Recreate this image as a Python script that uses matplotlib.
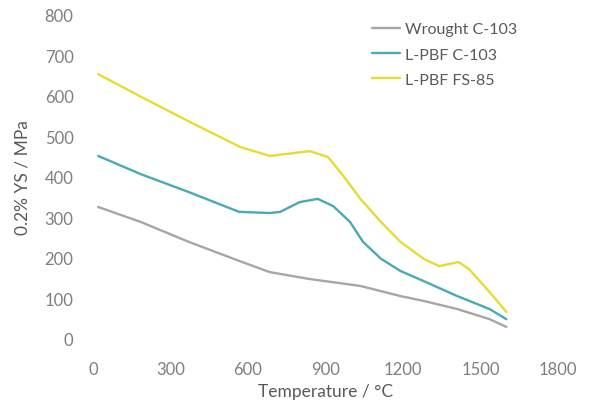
import matplotlib.pyplot as plt

# values (temperature in °C, 0.2% YS in MPa)
wrought_t = [20, 185, 370, 565, 685, 840, 1035, 1190, 1280, 1410, 1535, 1600]
wrought_ys = [326, 289, 240, 193, 165, 148, 131, 106, 94, 74, 49, 30]

c103_t = [20, 185, 370, 565, 685, 725, 800, 870, 930, 995, 1045, 1115, 1190,
          1280, 1410, 1535, 1600]
c103_ys = [452, 407, 363, 314, 311, 314, 338, 346, 328, 289, 240, 198, 168,
           143, 106, 74, 49]

fs85_t = [20, 180, 375, 570, 685, 840, 910, 970, 1035, 1115, 1190, 1280,
          1340, 1415, 1455, 1535, 1600]
fs85_ys = [654, 600, 536, 474, 452, 464, 449, 402, 346, 289, 240, 198,
           180, 190, 173, 116, 67]

labels = ["Wrought C-103", "L-PBF C-103", "L-PBF FS-85"]
colors = ["#a6a6a6", "#4aa9b3", "#e5dc32"]

plt.rcParams["font.family"] = ["Lato", "DejaVu Sans"]

fig = plt.figure(figsize=(5.95, 4.10), dpi=100)
ax = fig.add_axes([93 / 595, 70 / 410, 465 / 595, 324 / 410])

for t, ys, lab, col in zip([wrought_t, c103_t, fs85_t],
                           [wrought_ys, c103_ys, fs85_ys], labels, colors):
    ax.plot(t, ys, color=col, lw=1.7, label=lab, solid_capstyle="round",
            solid_joinstyle="round")

ax.set_xlim(0, 1800)
ax.set_ylim(0, 800)
ax.set_xticks(range(0, 1801, 300))
ax.set_yticks(range(0, 801, 100))
for s in ax.spines.values():
    s.set_visible(False)
ax.tick_params(length=0, labelsize=12, labelcolor="#7f7f7f")
ax.tick_params(axis="x", pad=16)
ax.tick_params(axis="y", pad=14)

ax.set_xlabel("Temperature / °C", fontsize=12.5, color="#595959", labelpad=4)
ax.set_ylabel("0.2% YS / MPa", fontsize=12.5, color="#595959", labelpad=10)

ax.legend(loc="upper left", bbox_to_anchor=(372 / 595, 1 - 23 / 410),
          bbox_transform=fig.transFigure, frameon=False, borderpad=0,
          borderaxespad=0, fontsize=11.5, labelcolor="#595959",
          handlelength=1.75, handletextpad=0.3, labelspacing=0.7)

fig.savefig("out.png", dpi=100)
